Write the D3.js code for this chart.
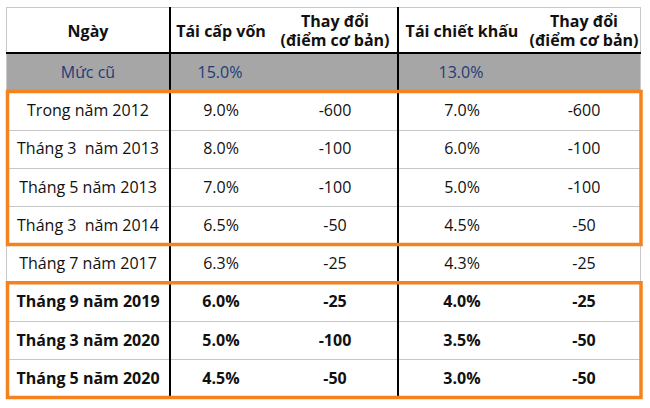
<!DOCTYPE html>
<html>
<head>
<meta charset="utf-8">
<script src="https://cdn.jsdelivr.net/npm/d3@7"></script>
<style>
  html, body { margin: 0; padding: 0; background: #fff; }
  svg { display: block; }
  text { font-family: "Open Sans", "Noto Sans", sans-serif; }
</style>
</head>
<body>
<svg id="chart" width="650" height="408"></svg>
<script>
// ---- Data ----
const headers = ["Ngày", "Tái cấp vốn", "Thay đổi\n(điểm cơ bản)", "Tái chiết khấu", "Thay đổi\n(điểm cơ bản)"];
const oldLevel = ["Mức cũ", "15.0%", "", "13.0%", ""];
const dates = ["Trong năm 2012", "Tháng 3  năm 2013", "Tháng 5 năm 2013", "Tháng 3  năm 2014",
               "Tháng 7 năm 2017", "Tháng 9 năm 2019", "Tháng 3 năm 2020", "Tháng 5 năm 2020"];
const refinancing = ["9.0%", "8.0%", "7.0%", "6.5%", "6.3%", "6.0%", "5.0%", "4.5%"];
const refinancingChange = ["-600", "-100", "-100", "-50", "-25", "-25", "-100", "-50"];
const discount = ["7.0%", "6.0%", "5.0%", "4.5%", "4.3%", "4.0%", "3.5%", "3.0%"];
const discountChange = ["-600", "-100", "-100", "-50", "-25", "-25", "-50", "-50"];
const boldRows = [false, false, false, false, false, true, true, true];
const highlightGroups = [[0, 3], [5, 7]];

// ---- Layout ----
const tLeft = 6, tRight = 641, tTop = 7, headerBottom = 53, grayBottom = 91.5, tBottom = 397.5;
const colCenters = [88, 221, 335, 462, 584];
const dividers = [170, 398];
const fontSize = 16;

const svg = d3.select("#chart");
const rows = dates.map((d, i) => [d, refinancing[i], refinancingChange[i], discount[i], discountChange[i]]);

const y = d3.scaleBand().domain(d3.range(rows.length)).range([grayBottom, tBottom]).paddingInner(0).paddingOuter(0);
const x = d3.scaleOrdinal().domain(d3.range(5)).range(colCenters);

// Gray "old level" row
svg.append("rect").attr("x", tLeft).attr("y", headerBottom).attr("width", tRight - tLeft)
  .attr("height", grayBottom - headerBottom).attr("fill", "#a6a6a6");

// Outer light border
svg.append("rect").attr("x", tLeft + 0.5).attr("y", tTop + 0.5).attr("width", tRight - tLeft - 1)
  .attr("height", tBottom - tTop - 1).attr("fill", "none").attr("stroke", "#c9c9c9").attr("stroke-width", 1);

// Row separators (light gray)
svg.append("g").selectAll("line").data(d3.range(1, rows.length)).join("line")
  .attr("x1", tLeft).attr("x2", tRight)
  .attr("y1", i => Math.round(y(i)) + 0.5).attr("y2", i => Math.round(y(i)) + 0.5)
  .attr("stroke", "#c8c8c8").attr("stroke-width", 1);

// Header bottom black line
svg.append("line").attr("x1", tLeft).attr("x2", tRight).attr("y1", headerBottom).attr("y2", headerBottom)
  .attr("stroke", "#000").attr("stroke-width", 2);

// Vertical black dividers
svg.append("g").selectAll("line").data(dividers).join("line")
  .attr("x1", d => d).attr("x2", d => d).attr("y1", tTop).attr("y2", tBottom)
  .attr("stroke", "#000").attr("stroke-width", 2);

// Headers
const hg = svg.append("g");
headers.forEach((h, i) => {
  const lines = h.split("\n");
  const t = hg.append("text").attr("x", x(i)).attr("text-anchor", "middle")
    .attr("font-weight", "bold").attr("font-size", fontSize).attr("fill", "#111");
  const cy = (tTop + headerBottom) / 2 + 1;
  lines.forEach((ln, k) => {
    t.append("tspan").attr("x", x(i))
      .attr("y", cy + (k - (lines.length - 1) / 2) * 19)
      .attr("dy", "0.35em").text(ln);
  });
});

// Old level row
svg.append("g").selectAll("text").data(oldLevel).join("text")
  .attr("x", (d, i) => i === 0 ? x(i) : x(i) - 1)
  .attr("y", (headerBottom + grayBottom) / 2).attr("dy", "0.35em")
  .attr("text-anchor", "middle").attr("font-size", fontSize).attr("fill", "#1f3b78")
  .text(d => d);

// Data rows
const rg = svg.append("g").selectAll("g").data(rows).join("g");
rg.selectAll("text").data((r, ri) => r.map(v => ({ v, ri }))).join("text")
  .attr("x", (d, i) => x(i))
  .attr("y", d => y(d.ri) + y.bandwidth() / 2).attr("dy", "0.35em")
  .attr("text-anchor", "middle").attr("font-size", fontSize)
  .attr("font-weight", d => boldRows[d.ri] ? "bold" : "normal")
  .attr("fill", "#111")
  .attr("xml:space", "preserve")
  .style("white-space", "pre")
  .text(d => d.v);

// Orange highlight boxes
svg.append("g").selectAll("rect").data(highlightGroups).join("rect")
  .attr("x", tLeft + 1.5).attr("width", tRight - tLeft - 1.5)
  .attr("y", g => y(g[0]))
  .attr("height", g => y(g[1]) + y.bandwidth() - y(g[0]))
  .attr("fill", "none").attr("stroke", "#f4821f").attr("stroke-width", 3.5);
</script>
</body>
</html>
